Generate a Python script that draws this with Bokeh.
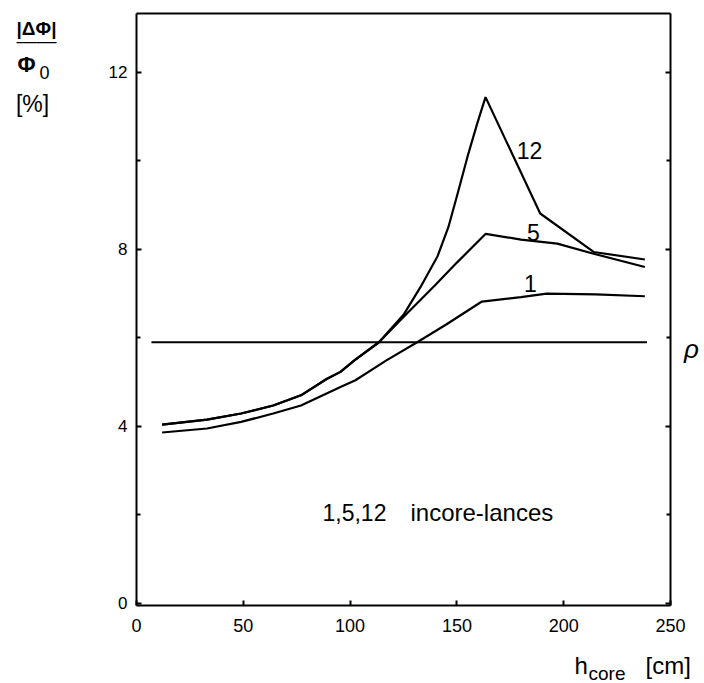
from bokeh.plotting import figure
from bokeh.models import Range1d, FixedTicker, Label, LinearAxis, CustomJSTickFormatter
from bokeh.embed import file_html
from bokeh.resources import INLINE

# ---------------- data ----------------
h_lance12 = [12, 33, 49, 64, 77, 89, 95.5, 102, 113.5, 125, 133, 141, 146, 150, 155, 159.5, 163.4, 189, 214, 238]
v_lance12 = [4.04, 4.15, 4.29, 4.47, 4.70, 5.07, 5.23, 5.49, 5.90, 6.52, 7.15, 7.85, 8.50, 9.20, 10.10, 10.84, 11.44, 8.81, 7.94, 7.77]

h_lance5 = [12, 33, 49, 64, 77, 89, 95.5, 102, 113.5, 125, 140, 150, 163.5, 180, 197, 214, 238]
v_lance5 = [4.04, 4.15, 4.29, 4.47, 4.70, 5.07, 5.23, 5.49, 5.90, 6.47, 7.20, 7.70, 8.35, 8.22, 8.13, 7.90, 7.60]

h_lance1 = [12, 33, 49, 64, 77, 95.5, 102.5, 117, 131.4, 145, 161.7, 180, 192, 215, 238]
v_lance1 = [3.86, 3.95, 4.10, 4.29, 4.47, 4.89, 5.04, 5.49, 5.90, 6.30, 6.82, 6.92, 7.00, 6.98, 6.94]

rho_h = [7, 239]
rho_v = [5.9, 5.9]

curve_names = ["12", "5", "1"]
x_ticks = [0, 50, 100, 150, 200, 250]
y_ticks = [0, 4, 8, 12]
y_minor = [2, 6, 10]

# ---------------- layout ----------------
W, H = 704, 683
FL, FR, FT, FB = 136, 670, 13, 605      # pixel box of the drawn axes frame
X0, X1 = 0, 250
Y0, Y1 = -0.05, 13.33
FONT = "Liberation Sans"


def dx(px):
    return X0 + (px - FL) * (X1 - X0) / (FR - FL)


def dy(py):
    return Y0 + (FB - py) * (Y1 - Y0) / (FB - FT)


# the plotting frame covers the whole canvas; axes are drawn at fixed locations
p = figure(width=W, height=H,
           x_range=Range1d(dx(0), dx(W)), y_range=Range1d(dy(H), dy(0)),
           x_axis_location=None, y_axis_location=None,
           output_backend="svg", toolbar_location=None,
           min_border_left=0, min_border_right=0,
           min_border_top=0, min_border_bottom=0)

p.xgrid.visible = False
p.ygrid.visible = False
p.background_fill_color = "white"
p.border_fill_color = "white"
p.outline_line_color = None

blank = CustomJSTickFormatter(code="return ''")


def style_axis(ax, size="18px"):
    ax.axis_line_color = "black"
    ax.axis_line_width = 2
    ax.major_tick_line_color = "black"
    ax.major_tick_line_width = 2
    ax.major_tick_in = 5
    ax.major_tick_out = 0
    ax.minor_tick_in = 4
    ax.minor_tick_out = 0
    ax.minor_tick_line_color = "black"
    ax.minor_tick_line_width = 2
    ax.major_label_text_font = FONT
    ax.major_label_text_color = "black"
    ax.major_label_text_font_size = size


xb = LinearAxis(fixed_location=Y0, bounds=(X0, X1), ticker=FixedTicker(ticks=x_ticks))
style_axis(xb, "18px")
xb.minor_tick_line_color = None
xb.major_label_standoff = 13
p.add_layout(xb, "below")

yl = LinearAxis(fixed_location=X0, bounds=(Y0, Y1), ticker=FixedTicker(ticks=y_ticks, minor_ticks=y_minor))
style_axis(yl, "17px")
yl.major_label_standoff = 9
p.add_layout(yl, "left")

yr = LinearAxis(fixed_location=X1, bounds=(Y0, Y1), ticker=FixedTicker(ticks=y_ticks, minor_ticks=y_minor),
                formatter=blank)
style_axis(yr)
p.add_layout(yr, "right")

xt = LinearAxis(fixed_location=Y1, bounds=(X0, X1), ticker=FixedTicker(ticks=[]), formatter=blank)
style_axis(xt)
xt.minor_tick_line_color = None
p.add_layout(xt, "above")

# ---------------- curves ----------------
p.line(h_lance12, v_lance12, line_color="black", line_width=2.2)
p.line(h_lance5, v_lance5, line_color="black", line_width=2.2)
p.line(h_lance1, v_lance1, line_color="black", line_width=2.2)
p.line(rho_h, rho_v, line_color="black", line_width=2)


# ---------------- annotations ----------------
def lab(text, px, py, size, align="center", style="normal", baseline="middle"):
    p.add_layout(Label(x=dx(px), y=dy(py), text=text, text_font=FONT,
                       text_font_size=f"{size}px", text_align=align,
                       text_baseline=baseline, text_font_style=style,
                       text_color="black"))


# curve identifiers
lab(curve_names[0], 529, 150, 23)
lab(curve_names[1], 533, 232, 23)
lab(curve_names[2], 530, 283, 23)

# rho label
lab("ρ", 691, 348, 26, style="italic")

# note inside the plot
lab("1,5,12", 322, 512, 23, align="left")
lab("incore-lances", 410, 512, 24, align="left")

# y axis title: |ΔΦ| / Φ0 [%]
lab("|ΔΦ|", 36, 28, 19, style="bold")
lab("\u2014\u2014", 36, 40, 20)
lab("Φ", 26, 64, 22, style="bold")
lab("0", 44, 72, 18)
lab("[%]", 32, 103, 23)

# x axis title: h_core [cm]
lab("h", 574, 665, 24, align="left")
lab("core", 588, 673, 19, align="left")
lab("[cm]", 645, 665, 24, align="left")

open("out.html", "w").write(file_html(p, INLINE))
